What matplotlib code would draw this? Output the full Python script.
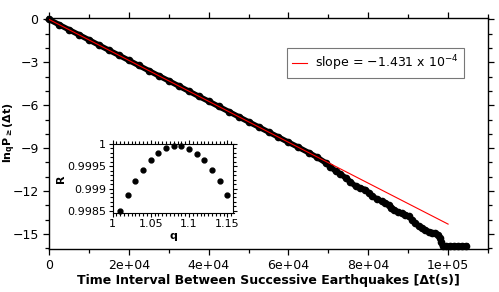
import numpy as np
import matplotlib
matplotlib.use("Agg")
import matplotlib.pyplot as plt
from matplotlib.ticker import MultipleLocator, FuncFormatter, FormatStrFormatter

# main curve: time interval (s) vs ln_q P(>=dt)
dt = [0, 2500, 5000, 7500, 10000, 12500, 15000, 17500, 20000, 22500, 25000,
      27500, 30000, 32500, 35000, 37500, 40000, 42500, 45000, 47500, 50000,
      52500, 55000, 57500, 60000, 62500, 65100, 67200, 69300, 70500, 71800,
      73000, 74300, 75500, 76800, 78000, 79300, 80200, 80950, 82200, 83450,
      84300, 85100, 85800, 86400, 87400, 88450, 89300, 90100, 91000, 91800,
      92600, 93450, 94300, 95100, 96000, 96800, 97500, 98050, 98300, 98600,
      99500, 100500, 101500, 102500, 103500, 104500]
lnq_p = [0.0, -0.36, -0.72, -1.07, -1.43, -1.79, -2.15, -2.50, -2.86, -3.22,
         -3.58, -3.94, -4.29, -4.65, -5.01, -5.37, -5.72, -6.08, -6.44, -6.80,
         -7.16, -7.51, -7.87, -8.23, -8.59, -8.94, -9.32, -9.64, -10.02, -10.30,
         -10.60, -10.80, -11.07, -11.35, -11.66, -11.78, -11.90, -12.15, -12.36,
         -12.55, -12.72, -12.85, -12.95, -13.15, -13.31, -13.45, -13.55, -13.65,
         -13.77, -14.00, -14.25, -14.45, -14.60, -14.75, -14.83, -14.90, -14.95,
         -15.10, -15.31, -15.55, -15.85, -15.85, -15.85, -15.85, -15.85, -15.85,
         -15.85]

fit_slope = -1.431e-4
fit_t = [0, 100000]

# inset: correlation coefficient R vs q
q_vals = [1.01, 1.02, 1.03, 1.04, 1.05, 1.06, 1.07, 1.08, 1.09, 1.10, 1.11,
          1.12, 1.13, 1.14, 1.15]
r_vals = [0.998485, 0.99886, 0.99917, 0.99942, 0.99963, 0.99980, 0.99990,
          0.99995, 0.99995, 0.99988, 0.99978, 0.99963, 0.99941, 0.99917,
          0.99885]

plt.rcParams['font.family'] = 'DejaVu Sans'

fig = plt.figure(figsize=(4.99, 2.92), dpi=100)
ax = fig.add_axes([49 / 499, 1 - 249 / 292, 439 / 499, 231 / 292])

ax.plot(dt, lnq_p, 'o-', color='black', ms=4.5, lw=4.0, clip_on=False, zorder=2)
fit_y = [fit_slope * t for t in fit_t]
ax.plot(fit_t, fit_y, color='red', lw=0.8, zorder=3,
        label='slope = \u22121.431 x 10$^{-4}$')

ax.set_xlim(0, 110000)
ax.set_ylim(-16.05, 0.1)
ax.xaxis.set_major_locator(MultipleLocator(20000))
ax.xaxis.set_minor_locator(MultipleLocator(10000))
ax.yaxis.set_major_locator(MultipleLocator(3))
ax.yaxis.set_minor_locator(MultipleLocator(1))
ax.xaxis.set_major_formatter(FuncFormatter(lambda v, p: '0' if v == 0 else f'{v:.0e}'))
ax.tick_params(which='both', direction='out', top=True, right=True,
               labelsize=9, width=0.9)
ax.tick_params(which='major', length=4)
ax.tick_params(which='minor', length=3)
for s in ax.spines.values():
    s.set_linewidth(1.0)

ax.set_xlabel('Time Interval Between Successive Earthquakes [\u0394t(s)]',
              fontsize=9, fontweight='bold', labelpad=1)
# y label placed by hand so it stays inside the figure
fig.text(10 / 499, 1 - 133 / 292, r'$\mathbf{ln_qP_{\geq}(\Delta t)}$',
         fontsize=8, rotation=90, ha='center', va='center')

leg = ax.legend(loc='upper right', bbox_to_anchor=(464 / 499, 1 - 47.5 / 292),
                bbox_transform=fig.transFigure, borderaxespad=0, fontsize=9,
                fancybox=False, handlelength=1.2, handletextpad=0.6,
                borderpad=0.45, framealpha=1)
leg.get_frame().set_edgecolor('#777777')
leg.get_frame().set_linewidth(0.8)

# inset
ins = fig.add_axes([112.5 / 499, 1 - 213 / 292, 121 / 499, 69 / 292])
ins.plot(q_vals, r_vals, 'o', color='black', ms=3.5, clip_on=False)
ins.set_xlim(1.0, 1.158)
ins.set_ylim(0.99845, 1.0)
ins.xaxis.set_major_locator(MultipleLocator(0.05))
ins.xaxis.set_minor_locator(MultipleLocator(0.005))
ins.yaxis.set_major_locator(MultipleLocator(0.0005))
ins.yaxis.set_minor_locator(MultipleLocator(0.0001))
ins.xaxis.set_major_formatter(FormatStrFormatter('%g'))
ins.yaxis.set_major_formatter(FormatStrFormatter('%g'))
ins.tick_params(which='both', direction='out', top=True, right=True,
                labelsize=8, width=0.8, pad=1.5)
ins.tick_params(which='major', length=3)
ins.tick_params(which='minor', length=2)
ins.set_xlabel('q', fontsize=8, fontweight='bold', labelpad=1)
ins.set_ylabel('R', fontsize=8, fontweight='bold', labelpad=1)

fig.savefig('out.png', dpi=100)
